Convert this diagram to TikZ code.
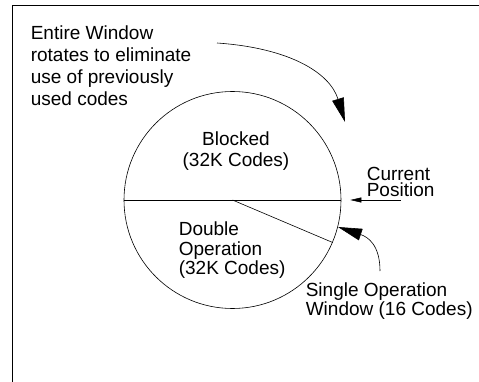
\documentclass[tikz,border=0pt]{standalone}
\usepackage{fontspec}
\setmainfont{Liberation Sans}
\usetikzlibrary{arrows.meta}
\tikzset{
  txt/.style={inner sep=0pt, align=left, font=\fontsize{19}{22.3}\selectfont},
  bigtip/.style={-{Triangle[length=24pt,width=12pt]}},
  smalltip/.style={-{Triangle[length=11pt,width=5pt]}},
}
\begin{document}
\begin{tikzpicture}[x=1pt,y=-1pt,line width=0.6pt]
  \useasboundingbox (0,0) rectangle (479,382);
  % frame
  \draw (12,382) -- (12,5) -- (479,5);
  % window
  \node[circle, draw, minimum size=217pt, inner sep=0pt] (win) at (232.5,200) {};
  \draw (win.west) to (win.east);
  \draw (win.center) to (win.-23);
  % labels
  \node[txt, anchor=north west] (rot) at (30.5,25)
    {Entire Window\\rotates to eliminate\\use of previously\\used codes};
  \node[txt, align=center, anchor=north, font=\fontsize{19}{21}\selectfont] (blk) at (236,131)
    {Blocked\\(32K Codes)};
  \node[txt, anchor=north west, font=\fontsize{19}{19.5}\selectfont] (dbl) at (178.5,221.5)
    {Double\\Operation\\(32K Codes)};
  \node[txt, anchor=north west, font=\fontsize{19}{19}\selectfont] (sgl) at (305.5,282.5)
    {Single Operation\\Window (16 Codes)};
  \node[txt, anchor=north west, font=\fontsize{19}{16}\selectfont] (cur) at (366.5,167)
    {Current\\Position};
  % arrows
  \coordinate (rotA) at (217,43);
  \coordinate (rotB) at (345,122);
  \coordinate (sglA) at (380,271);
  \coordinate (sglB) at (338,227);
  \draw[bigtip] (rotA) .. controls (290,48) and (330,73) .. (rotB);
  \draw[bigtip] (sglA) .. controls (380,245) and (368,237) .. (sglB);
  \draw[smalltip] (cur.south |- win.east) to ([xshift=9pt]win.east);
\end{tikzpicture}
\end{document}
